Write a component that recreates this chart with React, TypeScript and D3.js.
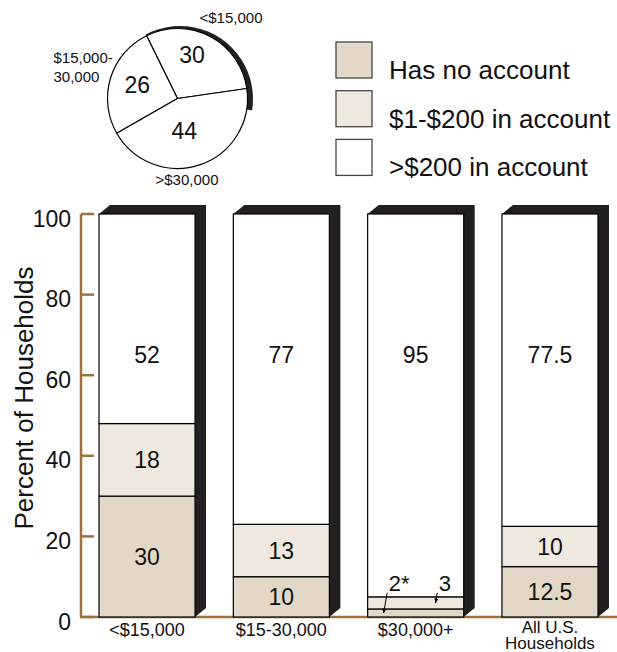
import React from "react";
import * as d3 from "d3";

// Stacked bars: share of households by account balance, per income group
const categories = ["<$15,000", "$15-30,000", "$30,000+", "All U.S. Households"];
const categoryLines = [["<$15,000"], ["$15-30,000"], ["$30,000+"], ["All U.S.", "Households"]];
const noAccount = [30, 10, 2, 12.5];
const lowBalance = [18, 13, 3, 10];
const highBalance = [52, 77, 95, 77.5];
const noAccountLabels = ["30", "10", "2*", "12.5"];
const lowBalanceLabels = ["18", "13", "3", "10"];
const highBalanceLabels = ["52", "77", "95", "77.5"];
const seriesNames = ["Has no account", "$1-$200 in account", ">$200 in account"];
const seriesColors = ["#e3d8c7", "#efe8df", "#ffffff"];
const yTicks = [0, 20, 40, 60, 80, 100];

// Pie: distribution of households by income
const incomeGroups = ["<$15,000", "$15,000-30,000", ">$30,000"];
const incomeShares = [30, 26, 44];
const incomeGroupLines = [["<$15,000"], ["$15,000-", "30,000"], [">$30,000"]];

const W = 617;
const H = 652;
const FONT = "'Liberation Sans', Arial, Helvetica, sans-serif";
const AXIS = "#a0703f";
const SHADOW = "#231f20";
const DEPTH_X = 11;
const DEPTH_Y = 9;
const TOP_LABEL_VALUE = 65;
const deg = (a: number) => (a * Math.PI) / 180;

export default function App() {
  const y = d3.scaleLinear().domain([0, 100]).range([617, 214]);
  const x = d3.scaleBand<string>().domain(categories).range([99, 598]).paddingInner(0.285).paddingOuter(0);
  const bw = x.bandwidth();

  const stacks = categories.map((c, i) => {
    const vals = [noAccount[i], lowBalance[i], highBalance[i]];
    const labels = [noAccountLabels[i], lowBalanceLabels[i], highBalanceLabels[i]];
    let acc = 0;
    return vals.map((v, k) => {
      const seg = { y0: acc, y1: acc + v, v, label: labels[k], k };
      acc += v;
      return seg;
    });
  });

  // pie geometry
  const cx = 177.5;
  const cy = 98.5;
  const R = 70;
  const start = deg(81.8);
  const pie = d3
    .pie<number>()
    .sort(null)
    .value((d) => d)
    .startAngle(start)
    .endAngle(start - 2 * Math.PI);
  const arcs = pie(incomeShares);
  const arc = d3.arc<d3.PieArcDatum<number>>().innerRadius(0).outerRadius(R);
  const labelArc = d3.arc<d3.PieArcDatum<number>>().innerRadius(42).outerRadius(42);
  const labelNudge: [number, number][] = [
    [-5, -7],
    [0, -2],
    [-7, -7],
  ];
  const first = arcs[0];
  const wedge = d3.arc()({
    innerRadius: 0,
    outerRadius: 95,
    startAngle: first.endAngle,
    endAngle: first.startAngle + 0.3,
  } as any) as string;
  const outerLabelPos: [number, number][] = [
    [22, -75.5],
    [-124, -35.5],
    [-22, 86.5],
  ];

  return (
    <svg width={W} height={H} style={{ position: "absolute", left: 0, top: 0 }} fontFamily={FONT}>
      <defs>
        <marker id="arrowhead" viewBox="0 0 10 10" refX="9" refY="5" markerWidth="5" markerHeight="5" orient="auto">
          <path d="M0,1 L10,5 L0,9 Z" fill="#000" />
        </marker>
        <clipPath id="pieShadowClip">
          <path d={wedge} transform={`translate(${cx},${cy})`} />
        </clipPath>
      </defs>

      {/* pie */}
      <circle cx={cx + 2.5} cy={cy + 0.5} r={R + 3} fill={SHADOW} clipPath="url(#pieShadowClip)" />
      <g transform={`translate(${cx},${cy})`}>
        {arcs.map((a, i) => (
          <path key={i} d={arc(a) as string} fill="#fff" stroke="#000" strokeWidth={1.2} strokeLinejoin="round" />
        ))}
        {arcs.map((a, i) => {
          const [lx, ly] = labelArc.centroid(a);
          return (
            <text
              key={i}
              x={lx + labelNudge[i][0]}
              y={ly + labelNudge[i][1]}
              dy="0.36em"
              textAnchor="middle"
              fontSize={23}
              fill="#111"
            >
              {a.data}
            </text>
          );
        })}
        {incomeGroupLines.map((lines, i) => (
          <text key={i} x={outerLabelPos[i][0]} y={outerLabelPos[i][1]} fontSize={15} fill="#111">
            {lines.map((l, j) => (
              <tspan key={j} x={outerLabelPos[i][0]} dy={j === 0 ? 0 : 18.5}>
                {l}
              </tspan>
            ))}
          </text>
        ))}
      </g>

      {/* legend */}
      {seriesNames.map((s, i) => (
        <g key={s} transform={`translate(336,${42 + i * 48.7})`}>
          <rect width={36} height={36} fill={seriesColors[i]} stroke="#444" strokeWidth={1.3} />
          <text x={53} y={37} fontSize={26} fill="#111">
            {s}
          </text>
        </g>
      ))}

      {/* axis */}
      <g stroke={AXIS} strokeWidth={2.5} fill="none">
        <line x1={81} x2={81} y1={y(100)} y2={y(0)} />
        <line x1={80} x2={W} y1={y(0)} y2={y(0)} />
        {yTicks.map((t) => (
          <line key={t} x1={81} x2={94} y1={y(t)} y2={y(t)} />
        ))}
      </g>
      {yTicks.map((t) => (
        <text key={t} x={71} y={y(t)} dy="0.55em" textAnchor="end" fontSize={23} fill="#111">
          {t}
        </text>
      ))}
      <text transform={`translate(33,398) rotate(-90)`} textAnchor="middle" fontSize={26} fill="#111">
        Percent of Households
      </text>

      {/* bars */}
      {categories.map((c, i) => {
        const x0 = x(c) as number;
        const x1 = x0 + bw;
        const top = y(100);
        const bot = y(0);
        const shadow = [
          [x0, top],
          [x0 + DEPTH_X, top - DEPTH_Y],
          [x1 + DEPTH_X, top - DEPTH_Y],
          [x1 + DEPTH_X, bot - DEPTH_Y],
          [x1, bot],
          [x1, top],
        ]
          .map((p) => p.join(","))
          .join(" ");
        const mid = x0 + bw / 2;
        const small = stacks[i].filter((s) => s.k < 2 && s.v < 5);
        const lines = categoryLines[i];
        const twoLine = lines.length > 1;
        return (
          <g key={c}>
            <polygon points={shadow} fill={SHADOW} />
            {stacks[i].map((s) => (
              <rect
                key={s.k}
                x={x0}
                y={y(s.y1)}
                width={bw}
                height={y(s.y0) - y(s.y1)}
                fill={seriesColors[s.k]}
                stroke="#000"
                strokeWidth={1.2}
              />
            ))}
            {stacks[i].map((s) => {
              if (s.k < 2 && s.v < 5) return null;
              const ly = s.k === 2 ? y(TOP_LABEL_VALUE) : y((s.y0 + s.y1) / 2);
              return (
                <text key={s.k} x={mid} y={ly} dy="0.36em" textAnchor="middle" fontSize={23} fill="#111">
                  {s.label}
                </text>
              );
            })}
            {small.map((s, j) => {
              const tx = mid + (j === 0 ? -27 : 23);
              const ty = y(6.5);
              const endX = tx - (j === 0 ? 5 : 3);
              return (
                <g key={s.k}>
                  <text x={tx} y={ty} fontSize={22} fill="#111">
                    {s.label}
                  </text>
                  <line
                    x1={tx - 1.5}
                    y1={ty + 2}
                    x2={endX}
                    y2={y((s.y0 + s.y1) / 2)}
                    stroke="#000"
                    strokeWidth={1}
                    markerEnd="url(#arrowhead)"
                  />
                </g>
              );
            })}
            <text x={mid} y={twoLine ? 633 : 636} textAnchor="middle" fontSize={twoLine ? 17 : 18} fill="#111">
              {lines.map((l, j) => (
                <tspan key={j} x={mid} dy={j === 0 ? 0 : 15.5}>
                  {l}
                </tspan>
              ))}
            </text>
          </g>
        );
      })}
    </svg>
  );
}
